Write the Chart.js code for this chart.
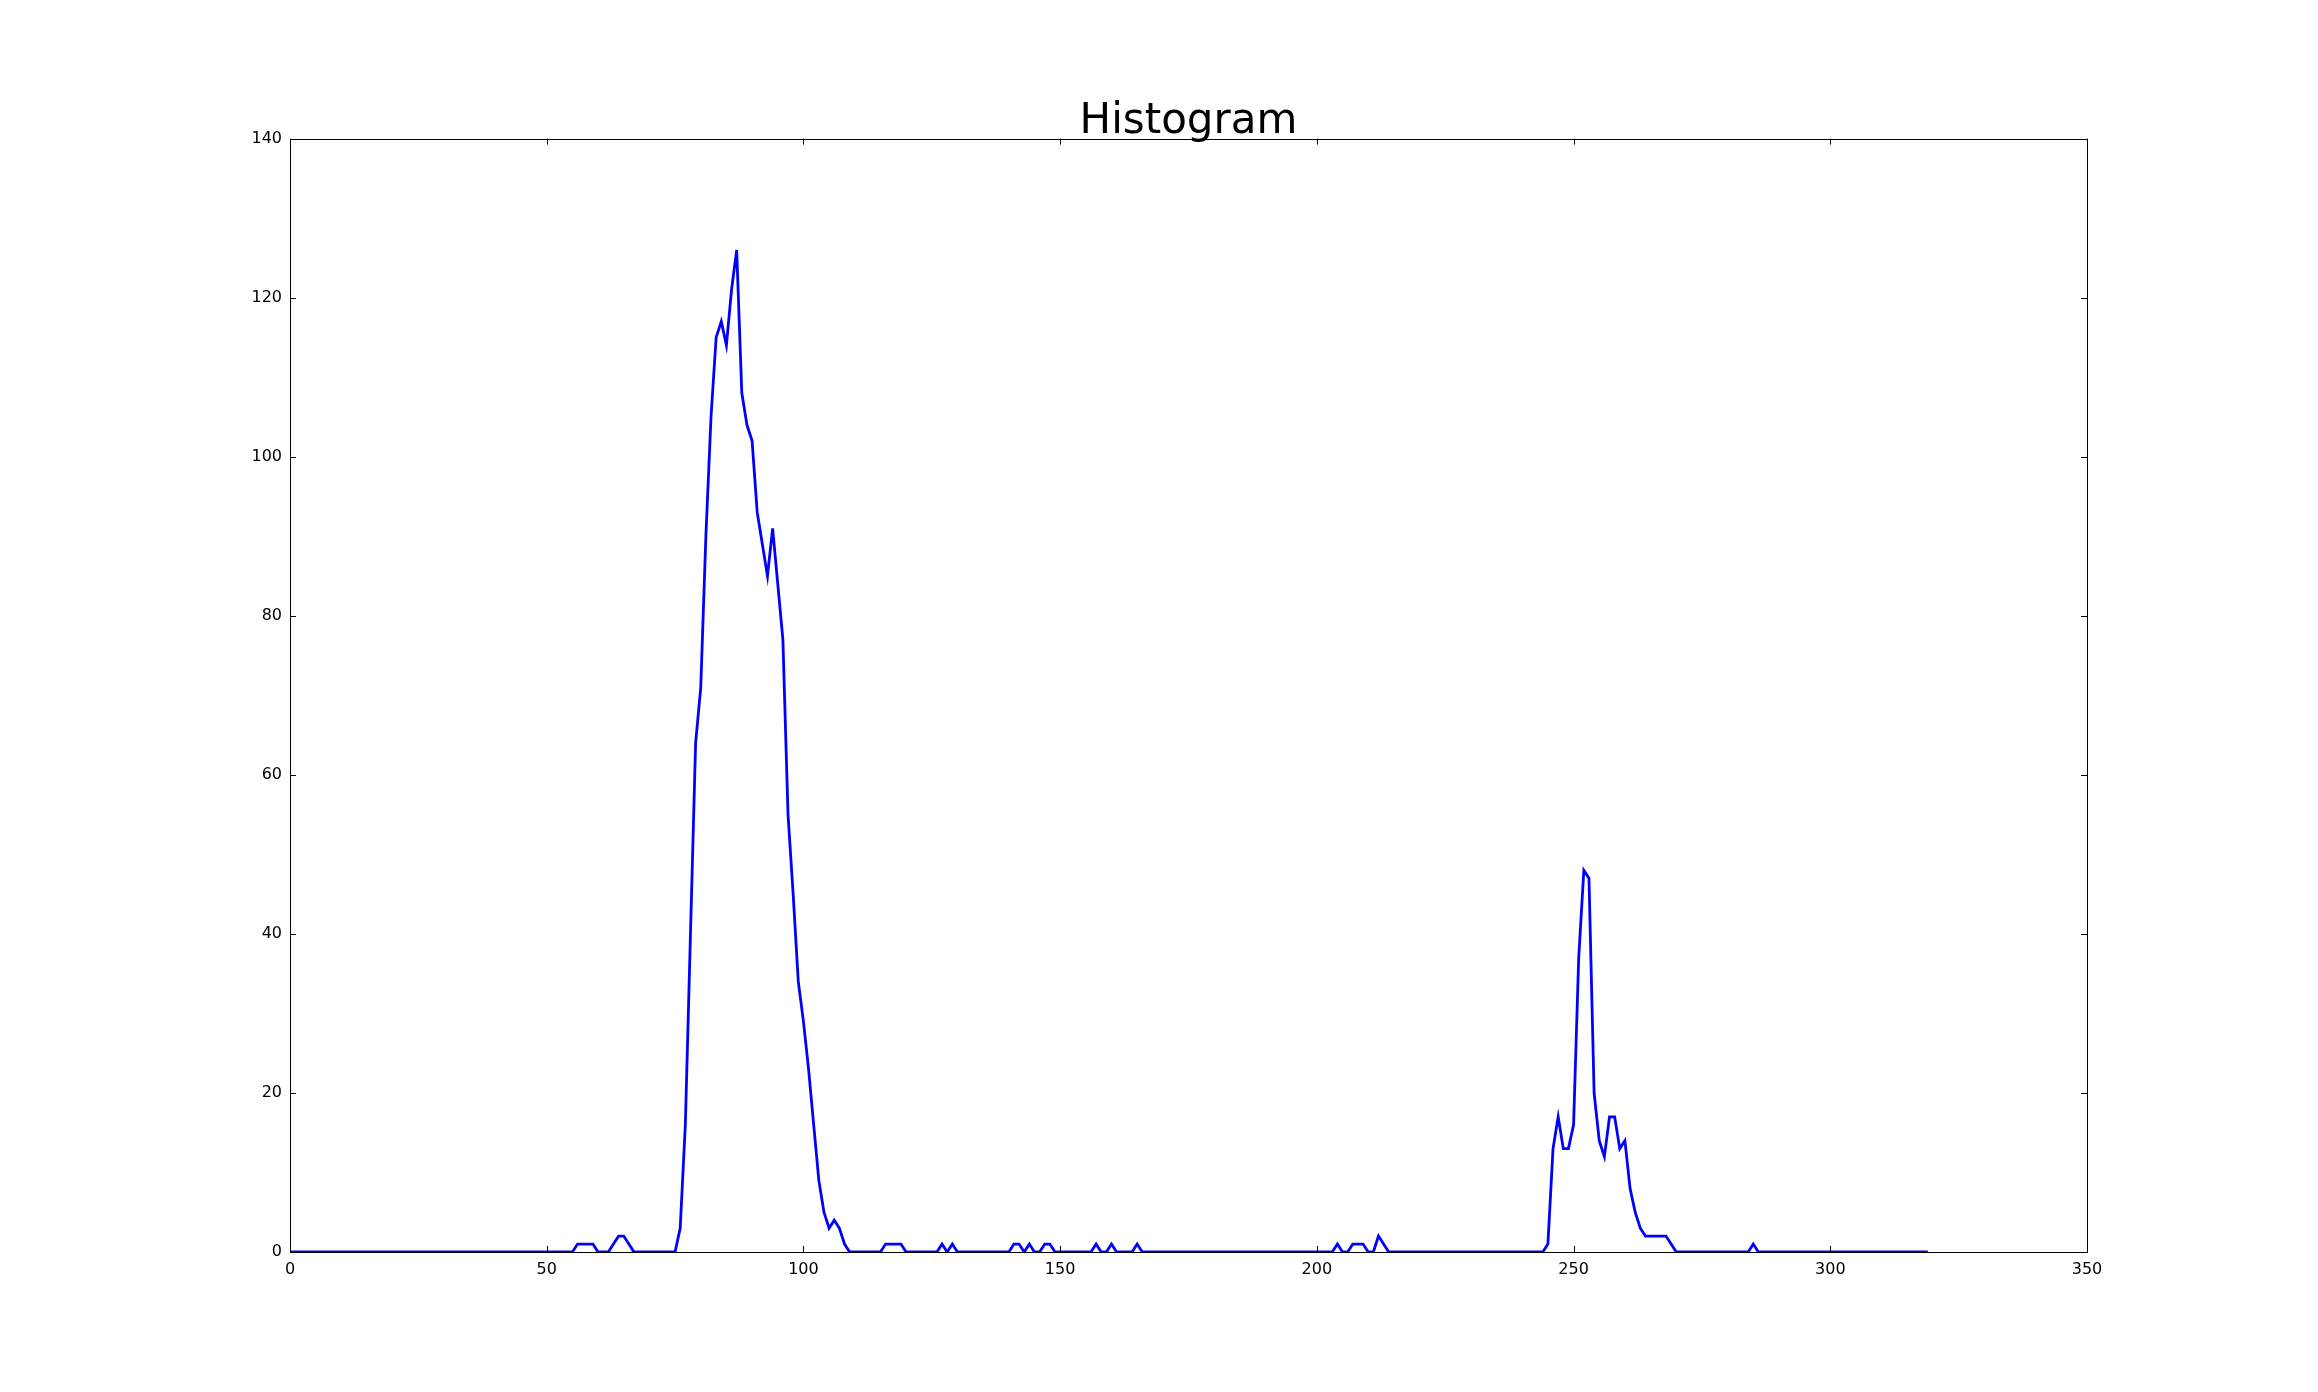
<!DOCTYPE html>
<html>
<head>
<meta charset="utf-8">
<title>Histogram</title>
<script src="https://cdn.jsdelivr.net/npm/chart.js@4.4.1/dist/chart.umd.min.js"></script>
<style>
  html, body { margin:0; padding:0; background:#fff; }
  canvas { display:block; }
</style>
</head>
<body>
<canvas id="histChart" width="2318" height="1392"></canvas>
<script>
// ════════════════════════════════════════════════════════════════
// Histogram — pixel counts per bin (bin index = position in array)
// ════════════════════════════════════════════════════════════════

const counts = [
  0,0,0,0,0,0,0,0,0,0,  0,0,0,0,0,0,0,0,0,0,          // 0-19
  0,0,0,0,0,0,0,0,0,0,  0,0,0,0,0,0,0,0,0,0,          // 20-39
  0,0,0,0,0,0,0,0,0,0,  0,0,0,0,0,0,1,1,1,1,          // 40-59
  0,0,0,1,2,2,1,0,0,0,  0,0,0,0,0,0,3,16,40,64,       // 60-79
  71,90,105,115,117,114,121,126,108,104,
  102,93,89,85,91,84,77,55,45,34,                     // 80-99
  29,23,16,9,5,3,4,3,1,0,  0,0,0,0,0,0,1,1,1,1,       // 100-119
  0,0,0,0,0,0,0,1,0,1,  0,0,0,0,0,0,0,0,0,0,          // 120-139
  0,1,1,0,1,0,0,1,1,0,  0,0,0,0,0,0,0,1,0,0,          // 140-159
  1,0,0,0,0,1,0,0,0,0,  0,0,0,0,0,0,0,0,0,0,          // 160-179
  0,0,0,0,0,0,0,0,0,0,  0,0,0,0,0,0,0,0,0,0,          // 180-199
  0,0,0,0,1,0,0,1,1,1,  0,0,2,1,0,0,0,0,0,0,          // 200-219
  0,0,0,0,0,0,0,0,0,0,  0,0,0,0,0,0,0,0,0,0,          // 220-239
  0,0,0,0,0,1,13,17,13,13,  16,37,48,47,20,14,12,17,17,13, // 240-259
  14,8,5,3,2,2,2,2,2,1,  0,0,0,0,0,0,0,0,0,0,         // 260-279
  0,0,0,0,0,1,0,0,0,0,  0,0,0,0,0,0,0,0,0,0,          // 280-299
  0,0,0,0,0,0,0,0,0,0,  0,0,0,0,0,0,0,0,0,0           // 300-319
];

const xTicks = [0, 50, 100, 150, 200, 250, 300, 350];
const yTicks = [0, 20, 40, 60, 80, 100, 120, 140];
const chartTitle = 'Histogram';

const FONT = "'DejaVu Sans', 'Liberation Sans', sans-serif";

// ── inward ticks on all four sides + black frame (matplotlib classic look)
const frameTicks = {
  id: 'frameTicks',
  afterDraw(chart) {
    const { ctx, chartArea: a, scales } = chart;
    const L = 6;
    ctx.save();
    ctx.strokeStyle = '#000';
    ctx.lineWidth = 1;
    ctx.beginPath();
    scales.x.ticks.forEach(t => {
      const px = Math.round(scales.x.getPixelForValue(t.value)) + 0.5;
      ctx.moveTo(px, a.bottom); ctx.lineTo(px, a.bottom - L);
      ctx.moveTo(px, a.top);    ctx.lineTo(px, a.top + L);
    });
    scales.y.ticks.forEach(t => {
      const py = Math.round(scales.y.getPixelForValue(t.value)) + 0.5;
      ctx.moveTo(a.left, py);  ctx.lineTo(a.left + L, py);
      ctx.moveTo(a.right, py); ctx.lineTo(a.right - L, py);
    });
    ctx.stroke();
    ctx.strokeRect(Math.round(a.left) + 0.5, Math.round(a.top) + 0.5,
                   Math.round(a.right - a.left), Math.round(a.bottom - a.top));
    ctx.restore();
  }
};

new Chart(document.getElementById('histChart'), {
  type: 'line',
  data: {
    datasets: [{
      data: counts.map((c, i) => ({ x: i, y: c })),
      borderColor: '#0000ff',
      borderWidth: 2.8,
      pointRadius: 0,
      tension: 0,
      fill: false
    }]
  },
  options: {
    responsive: false,
    animation: false,
    devicePixelRatio: 1,
    layout: { padding: { top: 105, right: 231, bottom: 0, left: 0 } },
    plugins: {
      legend: { display: false },
      tooltip: { enabled: false },
      title: {
        display: true, text: chartTitle, fullSize: false,
        color: '#000', padding: { top: 0, bottom: 0 },
        font: { family: FONT, size: 42, weight: 'normal', lineHeight: 0.8 }
      }
    },
    scales: {
      x: {
        type: 'linear', position: 'bottom', min: 0, max: 350,
        afterBuildTicks: s => { s.ticks = xTicks.map(v => ({ value: v })); },
        afterFit: s => { s.height = 140; },
        grid: { display: false },
        border: { display: false },
        ticks: { color: '#000', padding: 0, maxRotation: 0, font: { family: FONT, size: 16 } }
      },
      y: {
        type: 'linear', position: 'left', min: 0, max: 140,
        afterBuildTicks: s => { s.ticks = yTicks.map(v => ({ value: v })); },
        afterFit: s => { s.width = 290; },
        grid: { display: false },
        border: { display: false },
        ticks: { color: '#000', padding: 0, font: { family: FONT, size: 16 } }
      }
    }
  },
  plugins: [frameTicks]
});
</script>
</body>
</html>
